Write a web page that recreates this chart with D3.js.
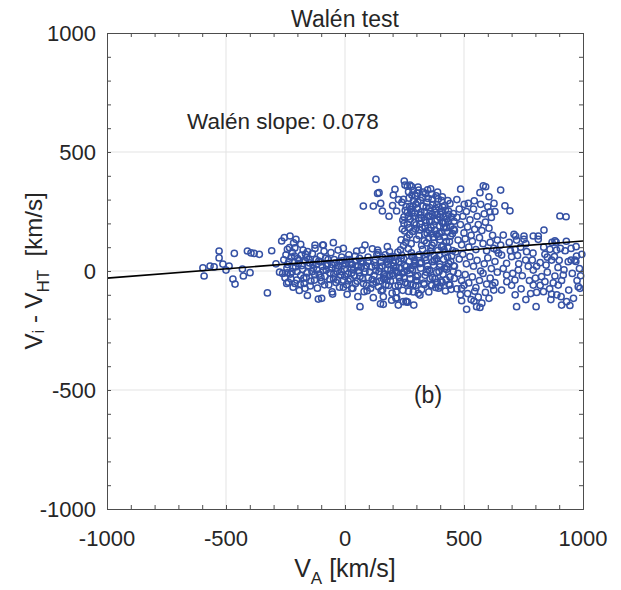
<!DOCTYPE html>
<html><head><meta charset="utf-8">
<script src="https://cdn.jsdelivr.net/npm/d3@7/dist/d3.min.js"></script>
<style>html,body{margin:0;padding:0;background:#fff;}svg{display:block;}text{font-family:"Liberation Sans",Arial,sans-serif;fill:#262626;}</style>
</head><body><svg id="c" width="621" height="590"></svg>
<script>
// ---- data (V_A [km/s], Vi - VHT [km/s]) ----
const xTicks = [-1000, -500, 0, 500, 1000];
const yTicks = [-1000, -500, 0, 500, 1000];
const waleanSlope = 0.078;
const fitIntercept = 48;
const titleText = "Walén test";
const slopeLabel = "Walén slope: 0.078";
const panelLabel = "(b)";

const groupLeft = [[-597,13],[-592,-21],[-567,21],[-550,17],[-529,84],[-529,55],[-513,29],[-500,4],[-487,21],[-471,-34],[-462,-55],[-465,74],[-431,8],[-410,84],[-395,76],[-382,74],[-360,70],[-326,-92],[-308,85],[-427,-21],[-399,-7],[-290,30],[-275,-5],[-262,-10]];

const groupCore = [[-266,126],[-255,140],[-231,147],[-206,133],[-186,112],[-242,91],[-157,81],[-126,95],[-91,109],[-49,119],[-7,95],[49,84],[84,109],[-126,109],[-94,109],[-245,-52],[-210,-52],
[-252,-28],[-244,12],[-257,47],[-248,68],[-238,-47],[-229,-13],[-241,27],[-226,58],[-233,98],
[-218,-68],[-223,-3],[-213,37],[-221,78],[-216,118],[-203,-38],[-208,17],[-199,52],[-211,97],
[-192,-82],[-186,-18],[-196,31],[-183,67],[-172,-52],[-179,7],[-167,42],[-176,88],
[-163,-27],[-154,22],[-161,57],[-158,-103],[-146,-63],[-139,-3],[-149,34],[-137,73],
[-128,-38],[-133,12],[-121,48],[-116,-72],[-109,-13],[-119,27],[-104,63],[-112,-118],
[-98,-43],[-92,2],[-103,38],[-88,83],[-84,-23],[-77,22],[-81,53],
[-68,-58],[-63,-8],[-73,31],[-59,77],[-54,-88],[-48,-33],[-57,12],[-45,48],
[-38,-48],[-33,-3],[-42,33],[-29,88],[-23,-68],[-18,-18],[-27,22],[-14,58],
[-8,-38],[-3,7],[-12,43],[7,-58],[12,-13],[2,32],[16,68],[9,-98],
[22,-33],[27,12],[18,48],[33,-73],[38,-18],[31,27],[43,63],
[52,-43],[57,2],[47,42],[54,-108],[63,-23],[68,17],[61,53],[72,88],
[78,-53],[84,-3],[76,37],[93,-83],[98,-28],[89,22],[97,58],
[-52,-97],[-98,-115],[-168,-73],[80,-87],[28,-73],[-7,-68],[63,-150]];

const groupCoreFill = [[-243,-8],[-236,40],[-227,-33],[-219,15],[-212,63],[-201,-2],[-194,44],[-188,-55],[-181,23],[-173,-30],[-166,71],[-159,-8],[-151,48],[-143,-42],[-135,28],[-127,-16],[-118,5],[-110,42],[-101,-27],[-95,19],[-86,-58],[-79,4],[-71,48],[-64,-35],[-56,28],[-47,-12],[-39,12],[-31,-38],[-24,41],[-16,-3],[-9,24],[-1,-22],[6,48],[13,-42],[21,29],[28,-8],[36,5],[44,-52],[51,22],[59,-7],[66,38],[74,-32],[82,12],[90,-60],[96,41],[104,-5],[117,-55],[128,22],[145,-42],[153,38],[167,-25],[179,8],[191,-42],[202,-18],[212,42],[224,-60],[235,10],[249,-30],[261,1],[276,-55],[288,22],[298,-40]];

const groupMid = [[108,-72],[122,-18],[112,17],[127,48],[115,93],[131,-47],[143,-3],[124,36],[139,77],[119,-112],
[152,-83],[161,-31],[146,12],[158,57],[149,-138],[172,-58],[166,-12],[181,27],[169,68],
[176,-38],[193,4],[184,46],[178,102],[198,-93],[187,-22],[204,21],[195,61],
[211,-63],[219,-6],[203,34],[222,79],[196,-123],[231,-44],[214,14],[236,52],[217,-113],
[243,-81],[228,-26],[251,23],[239,66],[246,107],[256,-128],[262,-55],[248,-2],[269,41],
[274,-33],[258,19],[281,61],[266,94],[263,-131],[287,-88],[272,-12],[293,31],[279,76],
[297,-61],[284,4],[291,46],[289,-143],
[114,-36],[129,1],[134,69],[141,-66],[156,21],[137,88],[163,-16],[174,38],[158,-79],[189,51],
[183,-61],[199,-11],[187,81],[211,1],[226,39],[215,-89],[229,-29],[207,59],[241,-9],[233,89],
[254,-48],[247,51],[267,-86],[276,9],[286,-59],[294,38],[299,-24],[283,63],
[315,-101],[308,-94],[364,-59],[399,-63],[441,-59],[224,-143],[161,-140],[161,-108],[214,-115],[259,-129],[245,-129]];

const groupBand = [[303,-42],[318,12],[309,58],[326,91],[322,-78],[337,-18],[315,31],[344,73],[331,-51],[356,3],[340,44],[361,97],
[352,-88],[368,-27],[347,22],[375,64],[363,-61],[385,-6],[369,39],[390,86],[378,-33],[398,17],[384,52],[405,101],
[393,-72],[412,-14],[399,28],[420,77],[408,-47],[427,7],[414,49],[433,96],[422,-84],[441,-25],[428,18],[448,63],
[437,-56],[455,-2],[444,41],[452,86],[459,-31],[306,-19],[321,36],[311,68],[333,-57],[348,6],[338,57],[357,-32],
[372,24],[359,81],[381,-69],[395,-2],[376,46],[403,-41],[418,11],[396,66],[425,-37],[436,31],[416,89],[446,-77],
[457,22],[431,58],[366,108],[412,105],[342,-5],[388,-48]];

const groupBlob = [[130,385],[137,326],[77,273],[119,273],[143,329],[157,252],[150,284],[203,319],[217,252],[210,343],[249,378],[252,361],[273,361],[185,230],[200,275],[225,300],
[236,131],[251,168],[243,214],[262,246],[239,288],[255,121],[271,152],[248,199],[266,228],[257,271],[281,319],[262,356],
[278,115],[269,181],[292,203],[275,259],[298,281],[286,338],[301,133],[284,166],[309,221],[293,244],[317,297],[302,327],
[322,108],[311,149],[336,187],[318,236],[341,268],[326,309],[347,341],[333,127],[352,171],[339,214],[359,251],[344,288],
[364,323],[351,139],[372,193],[357,229],[381,262],[366,302],[389,331],[374,117],[396,158],[379,209],[401,238],[386,279],
[409,312],[393,145],[415,182],[399,226],[422,255],[406,296],[429,163],[413,201],[436,237],[419,274],[444,188],[428,219],
[451,157],[435,252],[458,209],[441,283],[246,301],[267,333],[288,296],[307,352],[329,332],[349,305],[368,279],[392,303],
[411,269],[432,296],[455,241],[253,255],[274,217],[296,176],[315,198],[334,247],[356,209],[377,171],[398,189],[418,143],
[439,124],[260,139],[281,244],[303,262],[324,183],[345,159],[366,238],[387,216],[407,162],[427,182],[448,226],
[241,176],[263,197],[285,271],[306,289],[328,273],[350,232],[371,141],[393,269],[414,227],[435,206],[457,176],
[269,306],[291,229],[313,173],[335,154],[356,266],[378,246],[399,131],[421,205],[443,146],[295,315],[319,248],[341,203],
[362,182],[384,154],[405,249],[426,124],[248,228],[272,272],[299,194],[321,222],[343,118],[364,157],[387,237],[408,205],
[280,355],[310,340],[338,325],[360,345],[383,316]];

const groupRight = [[486,344],[581,358],[591,354],[567,329],[605,312],[501,280],[518,284],[543,295],[626,284],[609,249],
[470,300],[480,260],[495,230],[510,250],[525,215],[540,260],[555,230],[570,280],[585,240],[600,270],[615,225],[630,250],
[560,195],[575,170],[590,205],[605,180],[620,150],[545,175],[530,150],[515,185],[500,160],[485,195],[470,225],[460,170],
[475,130],[490,110],[505,135],[520,100],[535,125],[550,90],[565,140],[580,115],[595,85],[610,120],[625,95],[640,130],
[465,80],[480,50],[495,70],[510,30],[525,60],[540,20],[555,45],[570,0],[585,30],[600,55],[615,10],[630,40],[645,75],
[460,20],[475,-10],[490,-40],[505,-15],[520,-50],[535,-25],[550,-70],[565,-40],[580,-10],[595,-55],[610,-30],[625,-80],[640,-5],
[470,-75],[485,-100],[500,-60],[515,-95],[530,-120],[545,-85],[560,-110],[575,-135],[590,-90],[605,-115],[620,-60],
[490,-125],[511,-161],[542,-126],[567,-153],[553,-150],[490,-73],[630,-49]];

const groupFar = [[654,340],[672,274],[693,253],[665,151],[710,154],[752,147],[791,147],[836,172],[903,231],[929,228],[882,127],[971,102],[973,63],
[980,-66],[908,-108],[931,-129],[910,-143],[868,-97],[803,-150],[721,-150],[834,-87],[805,-90],[791,-59],[658,-80],[714,-38],[679,-17],
[728,4],[791,4],[826,-24],[882,-21],[896,-59],[950,46],[868,46],[850,58],[861,91],[889,88],[759,46],[787,46],[763,81],[738,100],
[721,130],[752,133],[812,133],[654,109],[658,67],[679,32],[637,88],[717,147],[812,147],[887,121],[987,-73],[840,-45],[917,-17],[938,39],[966,46],
[700,60],[715,90],[730,30],[745,-20],[760,115],[775,-40],[790,75],[805,20],[820,-60],[835,100],[850,-5],[865,-120],[880,60],[895,15],
[910,-40],[925,85],[940,-80],[955,-10],[970,40],[985,10],[995,70],[700,-60],[715,-100],[740,-75],[760,-120],[780,-95],[800,-30],
[820,35],[840,70],[860,-75],[875,-50],[890,-100],[905,95],[920,5],[945,-145],[960,-115],[975,-40],[690,120],[705,-10],[725,65],
[770,20],[845,25],[870,120],[900,45],[930,125],[950,95],[990,-20],[665,10],[680,-45],[695,85]];

const allPoints = [].concat(groupLeft, groupCore, groupCoreFill, groupMid, groupBand, groupBlob, groupRight, groupFar);

// ---- chart ----
const svg = d3.select("#c");
const m = {l:107, t:33, w:476, h:476};
const x = d3.scaleLinear().domain([-1000,1000]).range([m.l, m.l+m.w]);
const y = d3.scaleLinear().domain([-1000,1000]).range([m.t+m.h, m.t]);
const minor = d3.range(-1000, 1001, 100);
const axisCol = "#4d4d4d";

// grid
const g = svg.append("g");
g.selectAll("line.gx").data(xTicks.slice(1,-1)).join("line")
  .attr("x1", d=>x(d)).attr("x2", d=>x(d)).attr("y1", m.t).attr("y2", m.t+m.h)
  .attr("stroke", "#e3e3e3").attr("stroke-width", 1);
g.selectAll("line.gy").data(yTicks.slice(1,-1)).join("line")
  .attr("y1", d=>y(d)).attr("y2", d=>y(d)).attr("x1", m.l).attr("x2", m.l+m.w)
  .attr("stroke", "#e3e3e3").attr("stroke-width", 1);

// points
svg.append("g").selectAll("circle").data(allPoints).join("circle")
  .attr("cx", d=>x(d[0])).attr("cy", d=>y(d[1])).attr("r", 3.1)
  .attr("fill", "none").attr("stroke", "#3652a5").attr("stroke-width", 1.5);

// fit line
svg.append("line")
  .attr("x1", x(-1000)).attr("y1", y(fitIntercept + waleanSlope*-1000))
  .attr("x2", x(1000)).attr("y2", y(fitIntercept + waleanSlope*1000))
  .attr("stroke", "#000").attr("stroke-width", 1.6);

// axes (ticks inside, box)
const axB = d3.axisBottom(x).tickValues(minor).tickSize(-4).tickFormat("");
const axT = d3.axisTop(x).tickValues(minor).tickSize(-4).tickFormat("");
const axL = d3.axisLeft(y).tickValues(minor).tickSize(-4).tickFormat("");
const axR = d3.axisRight(y).tickValues(minor).tickSize(-4).tickFormat("");
[[axB,`translate(0,${m.t+m.h})`],[axT,`translate(0,${m.t})`],[axL,`translate(${m.l},0)`],[axR,`translate(${m.l+m.w},0)`]].forEach(([a,t])=>{
  const ga = svg.append("g").attr("transform", t).call(a);
  ga.selectAll("path").attr("stroke", axisCol);
  ga.selectAll("line").attr("stroke", axisCol);
});
// major tick labels
svg.append("g").selectAll("text").data(xTicks).join("text")
  .attr("x", d=>x(d)).attr("y", m.t+m.h+37).attr("text-anchor","middle")
  .attr("font-size", 22).text(d=>d);
svg.append("g").selectAll("text").data(yTicks).join("text")
  .attr("x", m.l-11).attr("y", d=>y(d)+8).attr("text-anchor","end")
  .attr("font-size", 22).text(d=>d);

// title
svg.append("text").attr("x", x(0)).attr("y", 27).attr("text-anchor","middle")
  .attr("font-size", 23).text(titleText);
// x label
const xl = svg.append("text").attr("x", x(0)).attr("y", 577).attr("text-anchor","middle").attr("font-size", 25);
xl.append("tspan").text("V");
xl.append("tspan").attr("font-size", 17).attr("dy", 7).text("A");
xl.append("tspan").attr("dy", -7).text(" [km/s]");
// y label
const yl = svg.append("text").attr("transform", `translate(42,${y(0)}) rotate(-90)`).attr("text-anchor","middle").attr("font-size", 24);
yl.append("tspan").text("V");
yl.append("tspan").attr("font-size", 17).attr("dy", 2).text("i");
yl.append("tspan").attr("dy", -2).text(" - V");
yl.append("tspan").attr("font-size", 17).attr("dy", 7).text("HT");
yl.append("tspan").attr("dy", -7).text("\u00a0 [km/s]");

// annotations
svg.append("text").attr("x", 187).attr("y", 129).attr("font-size", 22.5).text(slopeLabel);
svg.append("text").attr("x", 428).attr("y", 403).attr("text-anchor","middle").attr("font-size", 23).text(panelLabel);
</script></body></html>
